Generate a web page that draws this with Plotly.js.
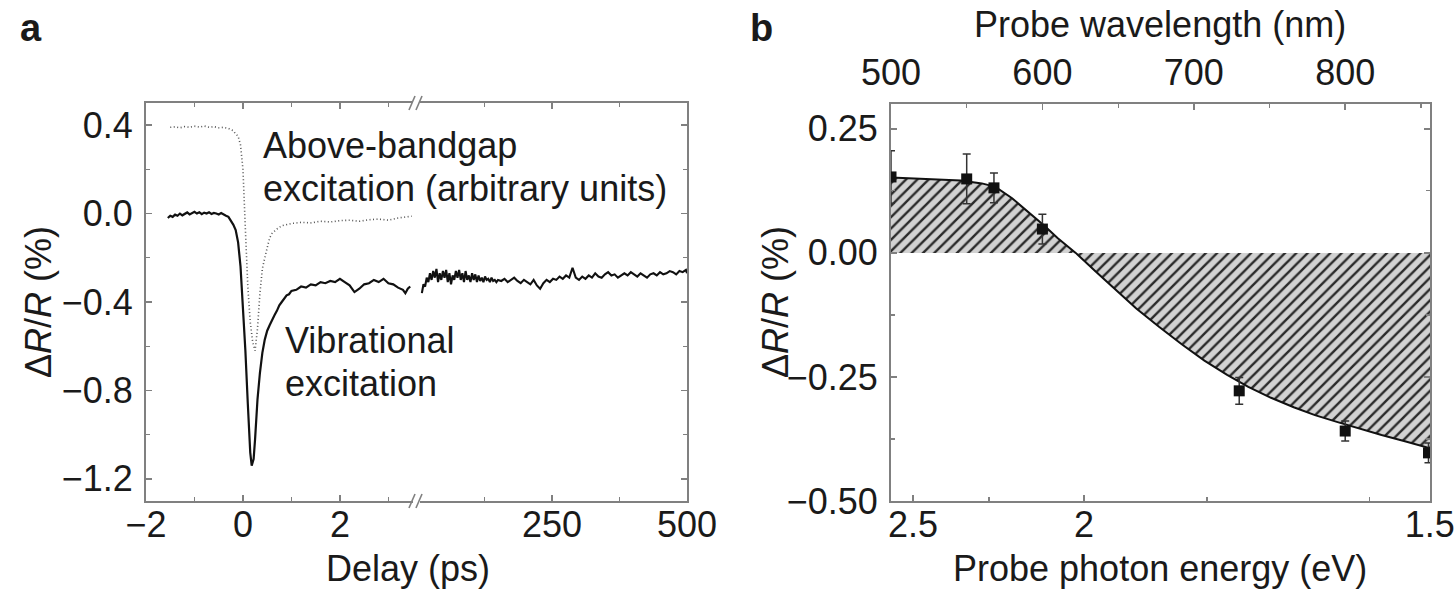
<!DOCTYPE html>
<html><head><meta charset="utf-8">
<script src="https://cdn.plot.ly/plotly-3.0.1.min.js"></script>
<style>html,body{margin:0;padding:0;background:#fff}#chart{width:1456px;height:591px}</style>
</head><body><div id="chart"></div>
<script>
// ---------- Panel a data ----------
const delayEarly = [-1.55,-1.5,-1.45,-1.4,-1.35,-1.3,-1.25,-1.2,-1.15,-1.1,
  -1.05,-1.0,-0.95,-0.9,-0.85,-0.8,-0.75,-0.7,-0.65,-0.6,
  -0.55,-0.5,-0.45,-0.4,-0.35,-0.3,-0.25,-0.2,-0.15,-0.1,
  -0.05,0,0.05,0.1,0.15,0.18,0.22,0.25,0.3,0.35,
  0.4,0.45,0.5,0.55,0.6,0.65,0.7,0.75,0.8,0.85,
  0.9,0.95,1.0,1.1,1.2,1.3,1.4,1.5,1.6,1.7,
  1.8,1.9,2.0,2.1,2.2,2.3,2.4,2.5,2.6,2.7,
  2.8,2.9,3.0,3.1,3.2,3.3,3.35,3.4,3.45];
const vibrationalEarly = [-0.02,-0.01,-0.015,-0.005,-0.01,0,-0.008,-0.002,0.005,-0.004,
  0.003,0.008,0,0.006,-0.003,0.004,0,0.006,-0.002,0.003,
  0,-0.004,0.002,-0.006,-0.01,-0.015,-0.03,-0.05,-0.075,-0.13,
  -0.24,-0.42,-0.62,-0.86,-1.08,-1.14,-1.11,-1.02,-0.84,-0.72,
  -0.63,-0.57,-0.53,-0.505,-0.48,-0.46,-0.44,-0.415,-0.40,-0.385,
  -0.37,-0.365,-0.35,-0.345,-0.33,-0.335,-0.32,-0.325,-0.31,-0.315,
  -0.305,-0.31,-0.295,-0.31,-0.325,-0.355,-0.34,-0.32,-0.315,-0.30,
  -0.31,-0.295,-0.315,-0.32,-0.335,-0.345,-0.36,-0.34,-0.33];
const delayAbove = [-1.5,-1.4,-1.3,-1.2,-1.1,-1.0,-0.9,-0.8,-0.7,-0.6,
  -0.5,-0.4,-0.3,-0.2,-0.15,-0.1,-0.05,0,0.05,0.1,
  0.15,0.2,0.25,0.3,0.35,0.4,0.45,0.5,0.55,0.6,
  0.7,0.8,0.9,1.0,1.2,1.4,1.6,1.8,2.0,2.2,
  2.4,2.6,2.8,3.0,3.2,3.4,3.48];
const aboveBandgap = [0.39,0.392,0.388,0.393,0.39,0.395,0.391,0.396,0.39,0.393,
  0.388,0.39,0.385,0.375,0.36,0.35,0.31,0.2,-0.07,-0.33,
  -0.49,-0.58,-0.62,-0.52,-0.36,-0.25,-0.2,-0.15,-0.11,-0.09,
  -0.07,-0.055,-0.05,-0.045,-0.04,-0.042,-0.035,-0.038,-0.032,-0.03,
  -0.035,-0.028,-0.025,-0.03,-0.02,-0.015,-0.012];
const delayLate = [9,12,15,18,21,24,27,30,33,36,39,42,45,48,51,54,57,60,63,66,69,72,75,78,81,84,87,90,93,96,99,102,105,108,111,114,117,120,123,126,129,132,135,138,141,144,147,150,
  156,162,168,174,180,186,192,198,204,210,216,222,228,234,240,246,252,258,264,270,276,282,288,294,300,306,312,318,324,330,336,342,348,354,360,366,372,378,384,390,396,402,408,414,420,426,432,438,444,450,456,462,468,474,480,486,492,498,500];
const vibrationalLate = [-0.36,-0.32,-0.33,-0.29,-0.31,-0.27,-0.30,-0.26,-0.29,-0.25,
  -0.31,-0.27,-0.30,-0.26,-0.29,-0.255,-0.31,-0.27,-0.32,-0.28,
  -0.30,-0.26,-0.29,-0.255,-0.30,-0.27,-0.31,-0.26,-0.30,-0.28,
  -0.31,-0.27,-0.30,-0.275,-0.31,-0.28,-0.305,-0.29,-0.31,-0.285,
  -0.30,-0.295,-0.31,-0.29,-0.305,-0.30,-0.31,-0.30,
  -0.305,-0.295,-0.31,-0.30,-0.29,-0.305,-0.315,-0.30,-0.31,-0.32,
  -0.30,-0.325,-0.34,-0.315,-0.30,-0.31,-0.295,-0.30,-0.285,-0.295,
  -0.28,-0.29,-0.245,-0.29,-0.30,-0.285,-0.295,-0.28,-0.29,-0.27,
  -0.285,-0.29,-0.275,-0.265,-0.28,-0.275,-0.29,-0.28,-0.27,-0.28,
  -0.265,-0.275,-0.285,-0.27,-0.28,-0.29,-0.275,-0.27,-0.28,-0.265,
  -0.275,-0.27,-0.26,-0.265,-0.275,-0.26,-0.265,-0.255,-0.27];

// ---------- Panel b data ----------
const fitWavelength = [500,520,546,560,569,580,590,601.5,610,622,635,648,662,677,692,707,722,736,751,766,780,795,810,824,840,856];
const fitDeltaR = [0.152,0.150,0.146,0.140,0.133,0.110,0.084,0.054,0.030,0.0,-0.037,-0.074,-0.112,-0.149,-0.184,-0.217,-0.246,-0.270,-0.292,-0.311,-0.327,-0.341,-0.355,-0.367,-0.380,-0.394];
const probeWavelength = [500,550,568,600,730,800,855];
const probeDeltaR = [0.153,0.149,0.131,0.048,-0.278,-0.359,-0.403];
const probeError = [0.053,0.05,0.03,0.03,0.027,0.02,0.02];
const energyTickText = ['2.5','2','1.5'];
const energyTickPos = [514.5,627.5,855.8];     // where the figure prints them on the wavelength scale
const energyMinorPos = [564.7,708.7,816.3];

// ---------- layout helpers ----------
const W = 1456, H = 591;
const px = v => v / W;
const py = v => 1 - v / H;
const FONT = 'Liberation Sans, Arial, Helvetica, sans-serif';
const TXT = '#1a1a1a';
const AX = '#808080';
const FS = 36;

const axBase = {
  showline: true, linecolor: AX, linewidth: 2,
  ticks: 'inside', ticklen: 6, tickwidth: 1.5, tickcolor: AX,
  showgrid: false, zeroline: false, fixedrange: true,
  tickfont: {family: FONT, size: FS, color: TXT}
};
const minorBase = {ticks: 'inside', ticklen: 4, tickwidth: 1.2, tickcolor: AX, showgrid: false};

const traces = [
  {x: delayEarly, y: vibrationalEarly, xaxis: 'x', yaxis: 'y', mode: 'lines',
   line: {color: '#111', width: 2.2}, hoverinfo: 'skip'},
  {x: delayAbove, y: aboveBandgap, xaxis: 'x', yaxis: 'y', mode: 'lines',
   line: {color: '#555', width: 1.6, dash: '1px,2.5px'}, hoverinfo: 'skip'},
  {x: delayLate, y: vibrationalLate, xaxis: 'x2', yaxis: 'y2', mode: 'lines',
   line: {color: '#111', width: 2.1}, hoverinfo: 'skip'},
  {x: fitWavelength, y: fitDeltaR, xaxis: 'x3', yaxis: 'y3', mode: 'lines',
   line: {color: '#111', width: 2}, fill: 'tozeroy', fillcolor: '#d0d0d0',
   fillpattern: {shape: '/', bgcolor: '#d2d2d2', fgcolor: '#2a2a2a', size: 8, solidity: 0.3},
   hoverinfo: 'skip'},
  {x: probeWavelength, y: probeDeltaR, xaxis: 'x4', yaxis: 'y3', mode: 'markers',
   marker: {symbol: 'square', size: 11, color: '#111'},
   error_y: {type: 'data', array: probeError, visible: true, color: '#333', thickness: 1.5, width: 4},
   hoverinfo: 'skip'}
];

const layout = {
  width: W, height: H, margin: {l: 0, r: 0, t: 0, b: 0},
  paper_bgcolor: '#fff', plot_bgcolor: 'rgba(0,0,0,0)', showlegend: false,
  font: {family: FONT, size: FS, color: TXT},
  xaxis: Object.assign({}, axBase, {domain: [px(146), px(417)], range: [-2, 3.59], anchor: 'y',
    tickmode: 'linear', tick0: 0, dtick: 2, mirror: 'ticks', ticklabelstandoff: -9,
    minor: Object.assign({}, minorBase, {dtick: 1, tick0: 0})}),
  xaxis2: Object.assign({}, axBase, {domain: [px(417), px(687)], range: [0, 500], anchor: 'y',
    tickmode: 'array', tickvals: [250, 500], mirror: 'ticks', ticklabelstandoff: -9,
    minor: Object.assign({}, minorBase, {tickmode: 'array', tickvals: [125, 375]})}),
  yaxis: Object.assign({}, axBase, {domain: [py(501), py(103)], range: [-1.3, 0.5], anchor: 'x',
    tickmode: 'linear', tick0: 0, dtick: 0.4, tickformat: '.1f', ticklabelstandoff: 4,
    minor: Object.assign({}, minorBase, {dtick: 0.2, tick0: 0})}),
  yaxis2: Object.assign({}, axBase, {overlaying: 'y', anchor: 'x2', side: 'right', range: [-1.3, 0.5],
    tickmode: 'linear', tick0: 0, dtick: 0.4, showticklabels: false,
    minor: Object.assign({}, minorBase, {dtick: 0.2, tick0: 0})}),
  xaxis3: Object.assign({}, axBase, {domain: [px(891), px(1430)], range: [500, 856], anchor: 'y3',
    side: 'top', tickmode: 'linear', tick0: 500, dtick: 100, ticklabelstandoff: 3,
    minor: Object.assign({}, minorBase, {dtick: 50, tick0: 500})}),
  xaxis4: Object.assign({}, axBase, {domain: [px(891), px(1430)], overlaying: 'x3', anchor: 'y3', side: 'bottom', range: [500, 856],
    tickmode: 'array', tickvals: energyTickPos, ticktext: energyTickText, ticklabelstandoff: -9,
    minor: Object.assign({}, minorBase, {tickmode: 'array', tickvals: energyMinorPos})}),
  yaxis3: Object.assign({}, axBase, {domain: [py(501), py(104)], range: [-0.5, 0.3], anchor: 'x3',
    mirror: 'ticks', tickmode: 'linear', tick0: 0, dtick: 0.25, tickformat: '.2f', ticklabelstandoff: 4,
    minor: Object.assign({}, minorBase, {dtick: 0.125, tick0: 0})}),
  annotations: [
    {text: '<b>a</b>', x: px(18), y: py(28), xanchor: 'left', yanchor: 'middle', font: {size: 38}},
    {text: '<b>b</b>', x: px(748), y: py(28), xanchor: 'left', yanchor: 'middle', font: {size: 38}},
    {text: 'Above-bandgap', x: px(261), y: py(145), xanchor: 'left', yanchor: 'middle'},
    {text: 'excitation (arbitrary units)', x: px(261), y: py(188), xanchor: 'left', yanchor: 'middle'},
    {text: 'Vibrational', x: px(283), y: py(340), xanchor: 'left', yanchor: 'middle'},
    {text: 'excitation', x: px(283), y: py(383), xanchor: 'left', yanchor: 'middle'},
    {text: 'Delay (ps)', x: px(408), y: py(568), xanchor: 'center', yanchor: 'middle'},
    {text: 'Δ<i>R</i>/<i>R</i> (%)', x: px(38), y: py(302), xanchor: 'center', yanchor: 'middle', textangle: -90},
    {text: 'Δ<i>R</i>/<i>R</i> (%)', x: px(775), y: py(302), xanchor: 'center', yanchor: 'middle', textangle: -90},
    {text: 'Probe photon energy (eV)', x: px(1160), y: py(568), xanchor: 'center', yanchor: 'middle'},
    {text: 'Probe wavelength (nm)', x: px(1160), y: py(25), xanchor: 'center', yanchor: 'middle'}
  ].map(a => Object.assign({xref: 'paper', yref: 'paper', showarrow: false}, a)),
  shapes: [
    // axis-break marks on panel a (top and bottom)
    {type: 'rect', x0: px(413), x1: px(420), y0: py(98), y1: py(108), fillcolor: '#fff', line: {width: 0}},
    {type: 'rect', x0: px(413), x1: px(420), y0: py(496), y1: py(506), fillcolor: '#fff', line: {width: 0}},
    {type: 'line', x0: px(409), x1: px(415), y0: py(110), y1: py(96), line: {color: AX, width: 1.6}},
    {type: 'line', x0: px(416), x1: px(422), y0: py(110), y1: py(96), line: {color: AX, width: 1.6}},
    {type: 'line', x0: px(409), x1: px(415), y0: py(508), y1: py(494), line: {color: AX, width: 1.6}},
    {type: 'line', x0: px(416), x1: px(422), y0: py(508), y1: py(494), line: {color: AX, width: 1.6}}
  ].map(s => Object.assign({xref: 'paper', yref: 'paper', layer: 'above'}, s))
};

Plotly.newPlot('chart', traces, layout, {staticPlot: true, displayModeBar: false});
</script>
</body></html>
